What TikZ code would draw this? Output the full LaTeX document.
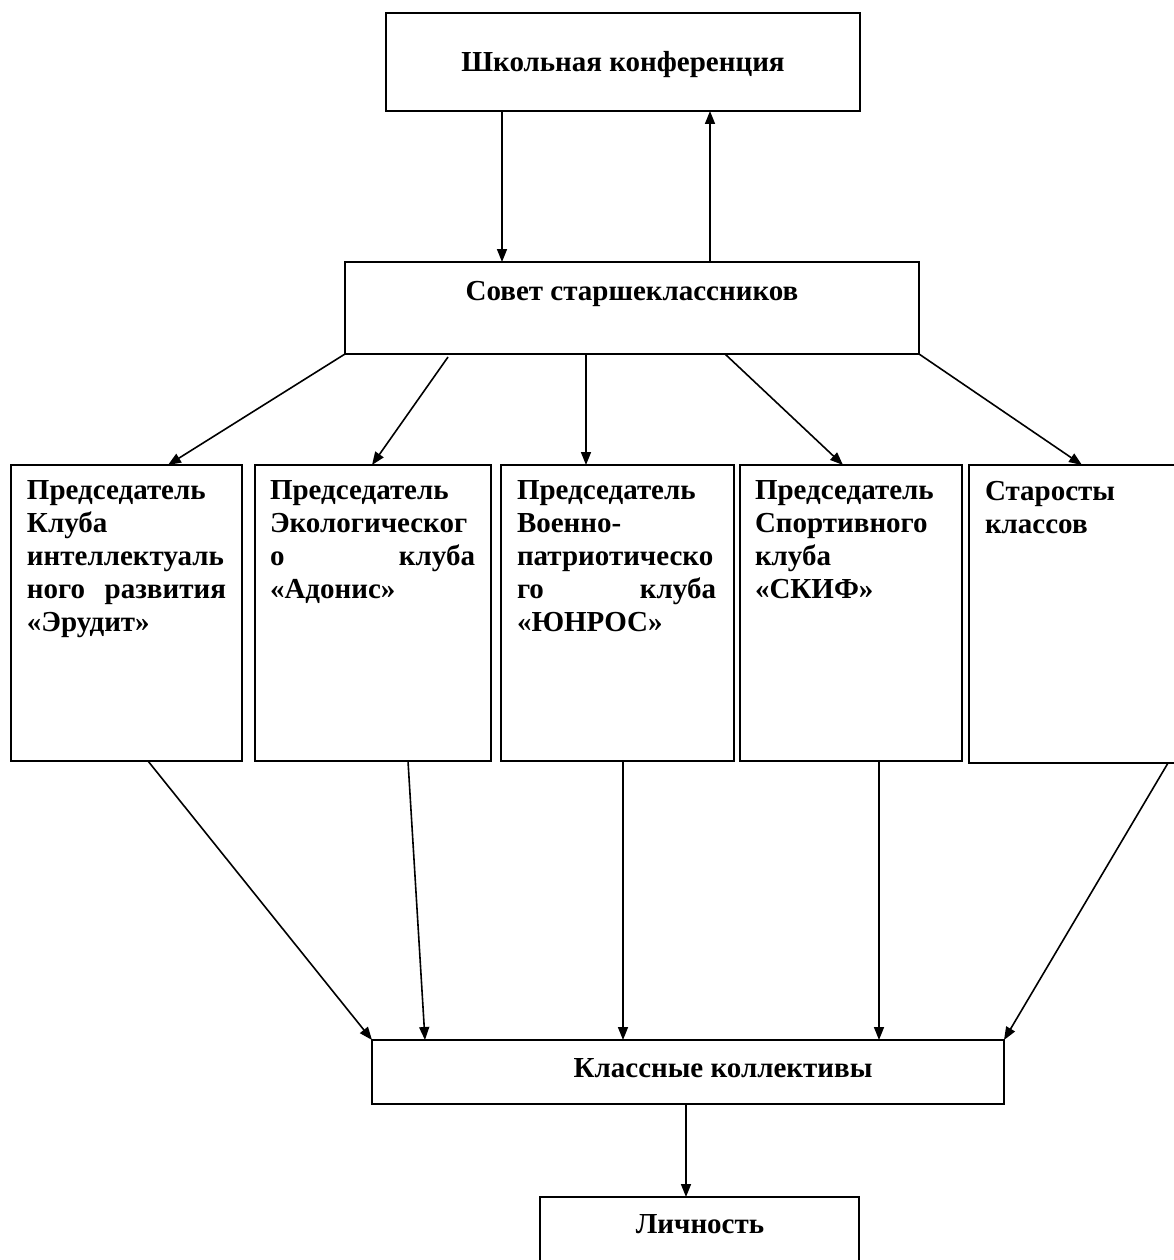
\documentclass[tikz,border=0pt]{standalone}
\usepackage{fontspec}
\setmainfont{Liberation Serif}
\usetikzlibrary{arrows.meta}
\tikzset{
  box/.style={draw=black, line width=1.6pt, inner sep=0pt, outer sep=0pt, fill=none},
  lbl/.style={font=\bfseries\fontsize{29}{33}\selectfont, inner sep=0pt, outer sep=0pt},
  blk/.style={lbl, anchor=north west, align=left},
  arr/.style={line width=1.6pt, -{Triangle[length=13pt,width=10pt]}}
}
\begin{document}
\begin{tikzpicture}[x=1pt,y=-1pt]
\useasboundingbox (0,0) rectangle (1174,1260);
% boxes
\node[box, minimum width=474pt, minimum height=98pt] (top) at (623,62) {};
\node[box, minimum width=574pt, minimum height=92pt] (sovet) at (632,308) {};
\node[box, minimum width=231pt, minimum height=296pt] (b1) at (126.5,613) {};
\node[box, minimum width=236pt, minimum height=296pt] (b2) at (373,613) {};
\node[box, minimum width=233pt, minimum height=296pt] (b3) at (617.5,613) {};
\node[box, minimum width=222pt, minimum height=296pt] (b4) at (851,613) {};
\node[box, minimum width=221pt, minimum height=298pt] (b5) at (1079.5,614) {};
\node[box, minimum width=632pt, minimum height=64pt] (klass) at (688,1072) {};
\node[box, minimum width=319pt, minimum height=78pt] (lich) at (699.5,1236) {};
% texts
\node[lbl, anchor=base] (ttop) at (623,72) {Школьная конференция};
\node[lbl, anchor=base] (tsovet) at (632,300) {Совет старшеклассников};
\node[lbl, anchor=base] (tklass) at (723,1077) {Классные коллективы};
\node[lbl, anchor=base] (tlich) at (700,1233) {Личность};
\node[blk, text width=199pt] (t1) at (27,481) {\hyphenpenalty=10000 Председатель\\Клуба\\интеллектуаль\\ного\hfill развития\\«Эрудит»};
\node[blk, text width=205pt] (t2) at (270,481) {\hyphenpenalty=10000 Председатель\\Экологическог\\о\hfill клуба\\«Адонис»};
\node[blk, text width=199pt] (t3) at (517,481) {\hyphenpenalty=10000 Председатель\\Военно-\\патриотическо\\го\hfill клуба\\«ЮНРОС»};
\node[blk, text width=190pt] (t4) at (755,481) {\hyphenpenalty=10000 Председатель\\Спортивного\\клуба\\«СКИФ»};
\node[blk, text width=180pt] (t5) at (985,481) {\hyphenpenalty=10000 Старосты\\классов};
% arrows top
\draw[arr] ([xshift=116pt]top.south west) -- ([xshift=157pt]sovet.north west);
\draw[arr] ([xshift=365pt]sovet.north west) -- ([xshift=324pt]top.south west);
% sovet -> row
\draw[arr] (sovet.south west) -- ([xshift=157pt]b1.north west);
\draw[arr] ([xshift=103pt,yshift=-3pt]sovet.south west) -- ([xshift=117pt]b2.north west);
\draw[arr] ([xshift=241pt]sovet.south west) -- ([xshift=85pt]b3.north west);
\draw[arr] ([xshift=380pt]sovet.south west) -- ([xshift=103pt]b4.north west);
\draw[arr] (sovet.south east) -- ([xshift=113pt]b5.north west);
% row -> klass
\draw[arr] ([xshift=137pt]b1.south west) -- (klass.north west);
\draw[arr] ([xshift=153pt]b2.south west) -- ([xshift=53pt]klass.north west);
\draw[arr] ([xshift=122pt]b3.south west) -- ([xshift=251pt]klass.north west);
\draw[arr] ([xshift=139pt]b4.south west) -- ([xshift=507pt]klass.north west);
\draw[arr] ([xshift=199pt]b5.south west) -- (klass.north east);
% klass -> lich
\draw[arr] ([xshift=314pt]klass.south west) -- ([xshift=146pt]lich.north west);
\end{tikzpicture}
\end{document}
